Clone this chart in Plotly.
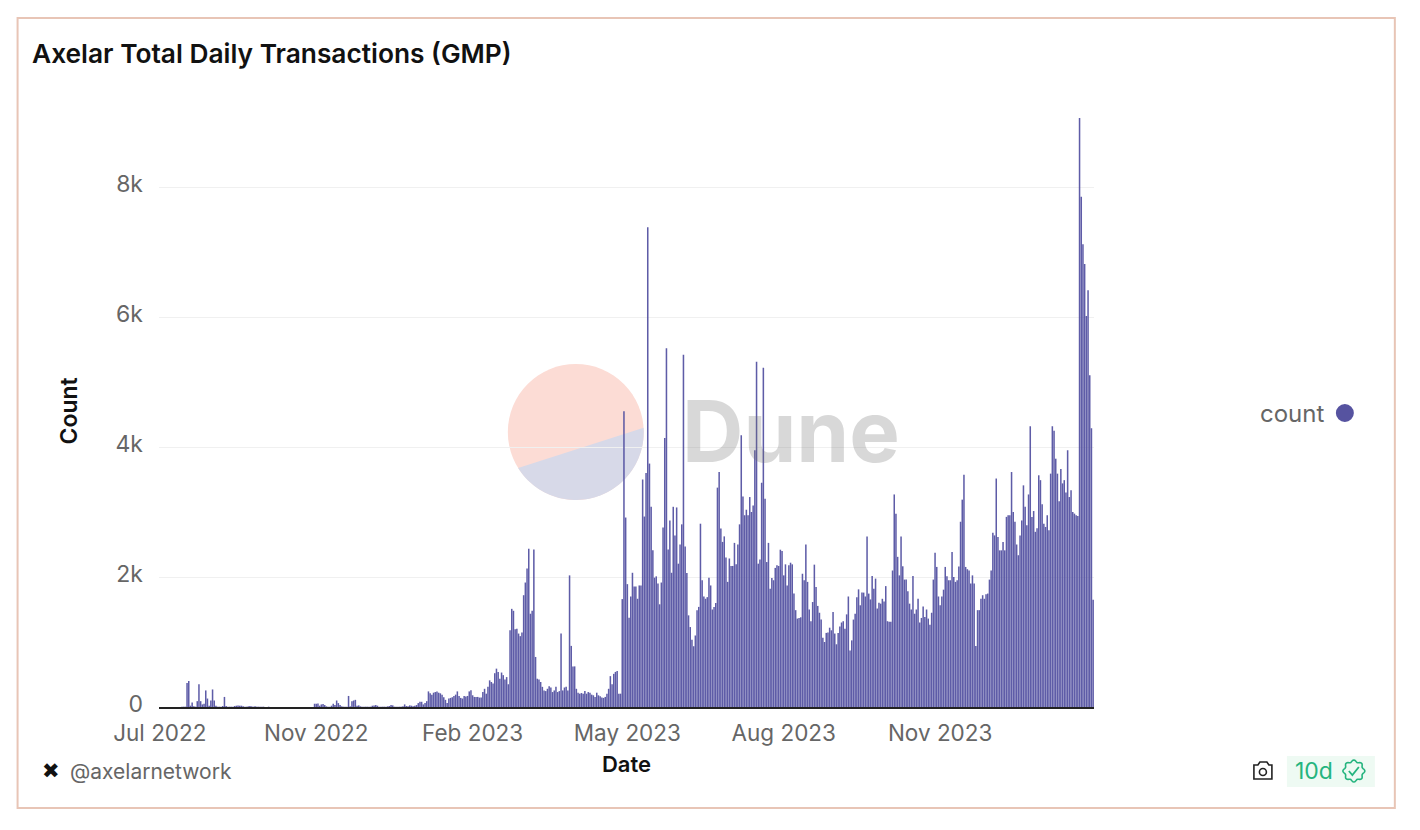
# Axelar GMP daily transactions, rebuilt as a Dune style bar chart
import numpy as np
import pandas as pd
import plotly.graph_objects as go

# daily counts, split by stretch of the chart
counts_2022 = [
    0,0,0,0,0,0,0,0,0,0, 0,0,0,5,5,5,370,400,20,70,
    10,5,90,350,90,40,50,255,130,20, 100,270,100,20,5,5,5,15,155,15,
    5,5,5,5,15,20,25,20,20,10, 5,5,10,15,10,5,10,5,5,5,
    5,5,0,0,5,0,0,0,0,0, 0,0,0,0,0,0,0,0,0,0,
    0,0,0,0,0,0,0,0,0,0, 0,50,50,55,20,40,45,30,10,5,
    5,20,50,30,100,60,30,10,5,5, 5,170,10,90,100,110,20,25,10,5,
    5,5,5,5,5,20,25,30,20,5, 5,5,5,5,10,15,30,25,5,5,
    5,5,5,10,40,15,10,25,20,10, 20,30,60,80,80,40,60,90,240,210,
    190,220,230,240,220,210,190,150,110,60, 130,140,150,170,190,240,170,140,130,170,
    160,170,240,
]
counts_spring = [
    256,180,155,155,155,145,145,230,280,205,
    310,410,385,360,520,590,540,435,530,490,
    425,460,350,1180,1510,1480,1195,1205,1130,1090,
    1145,1720,1915,2130,2435,1435,1480,2425,770,435,
    425,385,310,255,245,280,320,300,230,255,
    310,230,245,1130,255,300,310,255,2025,940,
    625,625,280,220,205,215,205,245,205,230,
    220,190,180,155,220,180,165,145,140,155,
    205,280,475,350,510,540,555,205,205,1660,
]
counts_summer = [
    4550,2915,1890,1375,1700,2065,1855,1855,1665,1870,
    1870,3500,2930,3600,7380,3745,3080,2410,1990,2010,
    1900,1580,1915,2760,4140,5520,2425,2870,2065,3080,
    2640,3070,2205,2500,2810,5420,2470,2060,1410,1230,
    1035,935,1100,1490,1540,2820,1950,1700,1665,1690,
    1990,1870,1500,1540,1600,3375,3615,2745,2540,2625,
    2300,1925,2285,2170,2170,2525,2195,2500,2810,4180,
    3240,2950,3035,2950,3230,3000,3100,3950,5310,2205,
    2270,3450,5220,3205,2230,2525,1820,1985,1950,2140,
    2180,2170,
]
counts_autumn = [
    2420,2400,2025,2195,1870,2180,2220,2195,1745,1490,
    1360,1370,1380,2050,1950,2500,1925,1500,1320,1615,
    2190,1845,1555,1450,1345,1065,1000,1140,1145,1220,
    1180,1460,1130,965,1140,1240,1300,1320,1205,1425,
    1700,870,1025,1345,1435,1690,1810,1565,1760,1760,
    1700,2625,1745,1655,2015,1820,1975,1515,1605,1590,
    1665,1625,1860,1320,1310,1310,2100,3270,2975,2310,
    2025,2625,2165,1960,1960,1780,1590,1500,2015,1435,
    1500,1665,1300,1370,1545,1385,1500,1360,1265,1450,
    1960,2375,2155,1700,1565,1700,1805,2155,2010,1950,
    1950,2385,2000,1925,1950,2160,2850,3190,3575,2155,
    2120,2100,1900,2025,1900,940,1490,1490,1665,1720,
    1665,1735,1745,1960,2100,2680,2640,
]
counts_winter = [
    3515,2615,2410,2410,2540,2410,2925,2950,2950,3615,
    3000,2850,2500,2335,2640,2870,3410,3080,2795,3270,
    4320,2925,3015,2695,2750,3565,3490,3120,2820,2770,
    2950,2720,3590,4320,4250,3820,3590,3165,3660,3440,
    3490,3300,3950,3230,3335,3000,2975,2950,2940,9060,
    7850,7120,6815,6015,6410,5105,4290,1650,
]
counts = counts_2022 + counts_spring + counts_summer + counts_autumn + counts_winter

# one day has no row in the query result, the axis is categorical
days = pd.date_range("2022-07-31", periods=len(counts) + 1).delete(40).strftime("%Y-%m-%d").tolist()
tick_days = ["2022-07-31", "2022-11-01", "2023-02-01", "2023-05-03", "2023-08-03", "2023-11-03"]
tick_labels = ["Jul 2022", "Nov 2022", "Feb 2023", "May 2023", "Aug 2023", "Nov 2023"]
y_ticks = [0, 2000, 4000, 6000, 8000]
y_labels = ["0", "2k", "4k", "6k", "8k"]

FONT = "Inter"
W, H = 1420, 830
PL, PR, PT, PB = 158.5, 1094, 100, 707
# the alpha keeps plotly from snapping the thin bars to whole pixels
BAR = "rgba(78,76,158,0.91)"
GREY = "#666666"
GREEN = "#24b47e"


# page pixels to paper coordinates, for everything around the plot
def px(x):
    return (x - PL) / (PR - PL)


def py(y):
    return (PB - y) / (PB - PT)


def rect(x0, y0, x1, y1, **kw):
    return dict(type="rect", xref="paper", yref="paper", x0=px(x0), x1=px(x1), y0=py(y0), y1=py(y1), **kw)


def circle(cx, cy, r, **kw):
    return dict(type="circle", xref="paper", yref="paper", x0=px(cx - r), x1=px(cx + r),
                y0=py(cy - r), y1=py(cy + r), **kw)


def path(points, close=True, **kw):
    d = "M " + " L ".join("%.5f,%.5f" % (px(x), py(y)) for x, y in points)
    if close:
        d += " Z"
    return dict(type="path", xref="paper", yref="paper", path=d, **kw)


def text(x, y, s, size, color=GREY, anchor="left", weight=400, family=FONT, angle=0):
    return dict(xref="paper", yref="paper", x=px(x), y=py(y), text=s, showarrow=False, xanchor=anchor,
                yanchor="middle", textangle=angle, font=dict(family=family, size=size, color=color, weight=weight))


# lower part of the logo: the circle cut by a chord
cx, cy, r = 575.5, 432, 68
a = np.radians(np.linspace(-3.5, 148, 60))
logo_low = [(cx + r * np.cos(t), cy + r * np.sin(t)) for t in a]

# camera outline
cam = [(1254, 765), (1258, 765), (1260, 762), (1267, 762), (1269, 765), (1272, 765), (1272, 779), (1254, 779)]
# check badge
tb = np.radians(np.arange(0, 360, 5))
badge = [(1354 + (10 + 1.0 * np.cos(8 * t)) * np.cos(t), 771 + (10 + 1.0 * np.cos(8 * t)) * np.sin(t)) for t in tb]

shapes = [
    rect(17, 18, 1395, 808, line=dict(color="#e8c5b6", width=2), fillcolor="white", layer="below"),
    circle(cx, cy, r, fillcolor="#fcdcd5", line=dict(width=0), layer="below"),
    path(logo_low, fillcolor="#d7d9e8", line=dict(width=0), layer="below"),
    circle(1345, 413, 9, fillcolor="#5653a0", line=dict(width=0)),
    rect(1287, 756, 1375, 787, fillcolor="#eefaf3", line=dict(width=0), layer="below"),
    path(cam, fillcolor="white", line=dict(color="#222222", width=1.6)),
    circle(1263, 772, 3.5, fillcolor="white", line=dict(color="#222222", width=1.6)),
    path(badge, fillcolor="rgba(0,0,0,0)", line=dict(color=GREEN, width=1.6)),
    path([(1349, 771), (1352.5, 775), (1359, 767)], close=False, fillcolor="rgba(0,0,0,0)",
         line=dict(color=GREEN, width=1.8)),
]

annotations = [
    text(680, 431, "Dune", 85, "rgba(110,110,110,0.27)", weight=700),
    text(1326, 413, "count", 24, anchor="right"),
    text(50, 771, "\u2716", 21, "#111111", anchor="center", family="DejaVu Sans"),
    text(67, 771, "@axelarnetwork", 21),
    text(1293, 771, "10d", 23, GREEN),
    text(68, 411, "Count", 23, "#111111", anchor="center", weight=600, angle=-90),
]

fig = go.Figure(go.Bar(x=days, y=counts, name="count", marker=dict(color=BAR, line=dict(width=0))))

fig.update_layout(
    width=W, height=H,
    margin=dict(l=PL, r=W - PR, t=PT, b=H - PB, autoexpand=False),
    paper_bgcolor="white", plot_bgcolor="rgba(0,0,0,0)",
    bargap=0.1, showlegend=False,
    font=dict(family=FONT, color=GREY),
    title=dict(text="Axelar Total Daily Transactions (GMP)", xref="container", yref="container",
               x=32 / W, xanchor="left", y=1 - 54 / H, yanchor="middle",
               font=dict(family=FONT, size=26.3, color="#111111", weight=600)),
    shapes=shapes, annotations=annotations,
)
fig.update_xaxes(
    type="category", range=[-0.5, len(counts) - 0.5],
    tickmode="array", tickvals=tick_days, ticktext=tick_labels, tickangle=0,
    tickfont=dict(size=22.5, color=GREY), ticks="", ticklabelstandoff=5,
    showgrid=False, showline=True, linecolor="#222222", linewidth=2, zeroline=False,
    title=dict(text="Date", standoff=12, font=dict(size=22, color="#111111", weight=600)),
)
fig.update_yaxes(
    range=[0, (PB - PT) / 65 * 1000],
    tickmode="array", tickvals=y_ticks, ticktext=y_labels,
    tickfont=dict(size=23, color=GREY), ticks="", ticklabelstandoff=15, ticklabelshift=-3,
    showgrid=True, gridcolor="#f0f0f0", gridwidth=1, zeroline=False, showline=False,
)

fig.write_html("out.html", config=dict(displayModeBar=False), post_script="document.body.style.margin='0';")
